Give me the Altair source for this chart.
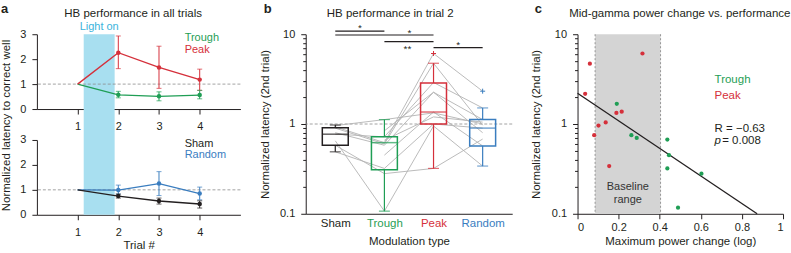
import altair as alt
import pandas as pd

FONT = "Liberation Sans"
INK = "#231f20"
GREEN = "#1f9e55"
RED = "#d5303b"
BLUE = "#3a7dbf"
CYAN = "#a8dff0"
CYAN_TEXT = "#3ab3dc"
GRAY = "#b3b3b3"
DASH = "#8c8c8c"
BAND_C = "#d4d4d4"

GROUPS = ["Sham", "Trough", "Peak", "Random"]
GROUP_COLORS = [INK, GREEN, RED, BLUE]

# ---------------- panel a data ----------------
trials = [1, 2, 3, 4]
peak_mean = [1.0, 2.26, 1.67, 1.18]
peak_lo = [None, 1.62, 0.83, 0.75]
peak_hi = [None, 2.93, 2.52, 1.60]
trough_mean = [1.0, 0.57, 0.51, 0.56]
trough_lo = [None, 0.45, 0.33, 0.41]
trough_hi = [None, 0.71, 0.69, 0.75]
sham_mean = [1.0, 0.75, 0.55, 0.43]
sham_lo = [None, 0.67, 0.43, 0.27]
sham_hi = [None, 0.83, 0.67, 0.56]
random_mean = [1.0, 0.99, 1.25, 0.85]
random_lo = [None, 0.83, 0.77, 0.60]
random_hi = [None, 1.19, 1.73, 1.11]
light_on = [1.15, 1.91]
a_legend_x = 3.63
a_top_legend = ["Trough", "Peak"]
a_top_legend_y = [2.84, 2.36]
a_bot_legend = ["Sham", "Random"]
a_bot_legend_y = [2.84, 2.40]

# ---------------- panel b data ----------------
b_index = [0, 1, 2, 3]
box_q1 = [0.58, 0.31, 1.0, 0.57]
box_med = [0.77, 0.62, 1.36, 0.90]
box_q3 = [0.91, 0.72, 2.86, 1.12]
whisk_lo = [0.49, 0.107, 0.32, 0.34]
whisk_hi = [0.975, 1.12, 4.75, 1.51]
outlier_group = ["Peak", "Random"]
outlier_index = [2, 3]
outlier_value = [6.1, 2.32]
animal_sham = [0.96, 0.93, 0.90, 0.80, 0.77, 0.65, 0.49, 0.58, None, None, None]
animal_trough = [1.12, 0.62, 0.60, 0.58, 0.72, 0.107, 0.32, 0.28, 0.84, 0.45, 0.66]
animal_peak = [1.33, 6.1, 4.75, 2.26, 2.9, 0.95, 1.0, 0.32, 2.26, 1.36, 1.2]
animal_random = [1.0, 2.32, 0.97, 1.12, 1.51, 0.34, 0.90, 0.68, 0.80, 0.57, 1.05]
sig_x1 = [0, 0, 1, 2]
sig_x2 = [1, 2, 2, 3]
sig_y = [10.85, 9.8, 8.26, 7.1]
star_x = [0.5, 1.51, 1.47, 2.5]
star_y = [10.85, 9.45, 6.29, 7.1]
star_text = ["*", "*", "**", "*"]

# ---------------- panel c data ----------------
peak_px = [0.316, 0.060, 0.037, 0.189, 0.215, 0.102, 0.137, 0.081, 0.154]
peak_py = [6.1, 4.7, 2.17, 1.33, 1.37, 0.96, 1.04, 0.75, 0.34]
trough_px = [0.191, 0.262, 0.288, 0.437, 0.445, 0.437, 0.603, 0.489]
trough_py = [1.68, 0.75, 0.70, 0.67, 0.45, 0.32, 0.28, 0.117]
baseline_range = [0.0855, 0.404]
fit_x = [0.0, 0.874]
fit_y = [2.2, 0.1]

COLOR = alt.Color("group:N", scale=alt.Scale(domain=GROUPS, range=GROUP_COLORS), legend=None)


def label(text, x, y, size=11.5, weight="normal", align="left", color=INK, baseline="alphabetic"):
    return alt.Chart(pd.DataFrame({"t": [text]})).mark_text(
        align=align, baseline=baseline, fontSize=size, fontWeight=weight, color=color
    ).encode(text="t:N", x=alt.value(x), y=alt.value(y))


def letter(text, x):
    return label(text, x, -30.8, 13, "bold", baseline="top")


# ================= panel a =================
WA, HA, GAPA = 204, 75, 31


def xa(field, title=None):
    kw = dict(values=trials, format="d", tickSize=5, labelPadding=7, labelFontSize=11)
    if title:
        kw.update(title=title, titleY=25)
    else:
        kw["title"] = None
    return alt.X(f"{field}:Q", scale=alt.Scale(domain=[0, 5], nice=False, zero=False),
                 axis=alt.Axis(**kw))


def ya(field, title=None):
    kw = dict(values=[0, 1, 2, 3], tickSize=5, labelPadding=6, labelFontSize=11)
    if title:
        kw.update(title=title, titleX=-30.5, titleY=-15, titleBaseline="middle", titleAlign="center")
    else:
        kw["title"] = None
    return alt.Y(f"{field}:Q", scale=alt.Scale(domain=[0, 3], nice=False), axis=alt.Axis(**kw))


def a_chart(names, means, los, his, legend_names, legend_y, top):
    frames = [pd.DataFrame({"trial": trials, "group": n, "mean": m, "lo": lo, "hi": hi})
              for n, m, lo, hi in zip(names, means, los, his)]
    df = pd.concat(frames, ignore_index=True)
    err = df.dropna(subset=["lo"])
    xt = None if top else "Trial #"
    yt = None if top else "Normalized latency to correct well"
    band = alt.Chart(pd.DataFrame({"s": [light_on[0]], "e": [light_on[1]]})).mark_rect(color=CYAN).encode(
        x=xa("s", xt), x2="e:Q", y=alt.value(0), y2=alt.value(HA + GAPA if top else HA))
    ref = alt.Chart(pd.DataFrame({"v": [1.0]})).mark_rule(
        color=DASH, strokeDash=[3, 2], strokeWidth=0.8).encode(y=ya("v", yt))
    lines = alt.Chart(df).mark_line(strokeWidth=1.4).encode(
        x=xa("trial", xt), y=ya("mean", yt), color=COLOR)
    bars = alt.Chart(err).mark_rule(strokeWidth=1).encode(
        x=xa("trial", xt), y=ya("lo", yt), y2="hi:Q", color=COLOR)
    cap_lo = alt.Chart(err).mark_tick(orient="horizontal", size=5, thickness=1).encode(
        x=xa("trial", xt), y=ya("lo", yt), color=COLOR)
    cap_hi = alt.Chart(err).mark_tick(orient="horizontal", size=5, thickness=1).encode(
        x=xa("trial", xt), y=ya("hi", yt), color=COLOR)
    pts = alt.Chart(err).mark_circle(size=20, opacity=1).encode(
        x=xa("trial", xt), y=ya("mean", yt), color=COLOR)
    leg = alt.Chart(pd.DataFrame({"group": legend_names, "x": a_legend_x, "y": legend_y})).mark_text(
        align="left", baseline="middle", fontSize=11).encode(
        x=xa("x", xt), y=ya("y", yt), text="group:N", color=COLOR)
    layers = [band, ref, lines, bars, cap_lo, cap_hi, pts, leg]
    if top:
        lon = alt.Chart(pd.DataFrame({"t": ["Light on"], "x": [(light_on[0] + light_on[1]) / 2]})).mark_text(
            align="center", baseline="alphabetic", fontSize=11, color=CYAN_TEXT).encode(
            x=xa("x", xt), y=alt.value(-4.5), text="t:N")
        layers += [lon, letter("a", -36),
                   label("HB performance in all trials", 96.5, -17, 11.5, align="center")]
    return alt.layer(*layers).properties(width=WA, height=HA)


a_top = a_chart(["Trough", "Peak"], [trough_mean, peak_mean], [trough_lo, peak_lo],
                [trough_hi, peak_hi], a_top_legend, a_top_legend_y, True)
a_bot = a_chart(["Random", "Sham"], [random_mean, sham_mean], [random_lo, sham_lo],
                [random_hi, sham_hi], a_bot_legend, a_bot_legend_y, False)
panel_a = alt.vconcat(a_top, a_bot, spacing=GAPA, bounds="flush")

# ================= panel b =================
WB, HB = 207, 180
LOG_TICKS = [0.1, 0.2, 0.3, 0.4, 0.5, 0.6, 0.7, 0.8, 0.9, 1, 2, 3, 4, 5, 6, 7, 8, 9, 10]
MAJOR = "datum.value == 0.1 || datum.value == 1 || datum.value == 10"
LOG_LABEL = "datum.value == 0.1 ? '0.1' : datum.value == 1 ? '1' : datum.value == 10 ? '10' : ''"


def ylog(field, title=None):
    kw = dict(values=LOG_TICKS, labelExpr=LOG_LABEL, labelOverlap=False,
              tickSize={"condition": {"test": MAJOR, "value": 5}, "value": 3},
              labelPadding=6, labelFontSize=11)
    if title:
        kw.update(title=title, titleX=-40.75, titleBaseline="middle")
    else:
        kw["title"] = None
    return alt.Y(f"{field}:Q", scale=alt.Scale(type="log", domain=[0.1, 10], nice=False),
                 axis=alt.Axis(**kw))


B_YT = "Normalized latency (2nd trial)"
label_expr_b = "[" + ",".join(f"'{g}'" for g in GROUPS) + "][datum.value]"
label_color_b = {"condition": [{"test": f"datum.value == {i}", "value": c}
                               for i, c in zip(b_index[1:], GROUP_COLORS[1:])],
                 "value": GROUP_COLORS[0]}


def xb(field):
    return alt.X(f"{field}:Q", scale=alt.Scale(domain=[-0.5, 3.5], nice=False, zero=False),
                 axis=alt.Axis(values=b_index, ticks=False, labelExpr=label_expr_b,
                               labelColor=label_color_b, labelFontSize=11.5, labelPadding=4,
                               title="Modulation type", titleY=22))


rows = []
for a_i, vals in enumerate(zip(animal_sham, animal_trough, animal_peak, animal_random)):
    for idx, v in zip(b_index, vals):
        if v is not None:
            rows.append({"animal": a_i, "idx": idx, "val": v})
b_lines_df = pd.DataFrame(rows)
box_df = pd.DataFrame({"group": GROUPS, "idx": b_index, "q1": box_q1, "med": box_med,
                       "q3": box_q3, "lo": whisk_lo, "hi": whisk_hi})
out_df = pd.DataFrame({"group": outlier_group, "idx": outlier_index, "val": outlier_value})
sig_df = pd.DataFrame({"x1": sig_x1, "x2": sig_x2, "y": sig_y})
star_df = pd.DataFrame({"sx": star_x, "sy": star_y, "s": star_text})

b_ref = alt.Chart(pd.DataFrame({"v": [1.0]})).mark_rule(
    color=DASH, strokeDash=[3, 2], strokeWidth=0.8).encode(y=ylog("v", B_YT))
b_gray = alt.Chart(b_lines_df).mark_line(color=GRAY, strokeWidth=0.9).encode(
    x=xb("idx"), y=ylog("val", B_YT), detail="animal:N", order="idx:Q")
b_wlo = alt.Chart(box_df).mark_rule(strokeWidth=1.2).encode(
    x=xb("idx"), y=ylog("lo", B_YT), y2="q1:Q", color=COLOR)
b_whi = alt.Chart(box_df).mark_rule(strokeWidth=1.2).encode(
    x=xb("idx"), y=ylog("q3", B_YT), y2="hi:Q", color=COLOR)
b_clo = alt.Chart(box_df).mark_tick(orient="horizontal", size=11, thickness=1.2).encode(
    x=xb("idx"), y=ylog("lo", B_YT), color=COLOR)
b_chi = alt.Chart(box_df).mark_tick(orient="horizontal", size=11, thickness=1.2).encode(
    x=xb("idx"), y=ylog("hi", B_YT), color=COLOR)
b_box = alt.Chart(box_df).mark_bar(filled=False, size=26, strokeWidth=1.5).encode(
    x=xb("idx"), y=ylog("q1", B_YT), y2="q3:Q", color=COLOR)
b_med = alt.Chart(box_df).mark_tick(orient="horizontal", size=26, thickness=1.5).encode(
    x=xb("idx"), y=ylog("med", B_YT), color=COLOR)
b_out = alt.Chart(out_df).mark_point(shape="M-1,0H1M0,-1V1", filled=False, size=25,
                                     strokeWidth=1, opacity=1).encode(
    x=xb("idx"), y=ylog("val", B_YT), color=COLOR)
b_sig = alt.Chart(sig_df).mark_rule(color=INK, strokeWidth=1.2).encode(
    x=xb("x1"), x2="x2:Q", y=ylog("y", B_YT))
b_star = alt.Chart(star_df).mark_text(fontSize=10, color=INK, baseline="alphabetic").encode(
    x=xb("sx"), y=ylog("sy", B_YT), text="s:N")

panel_b = alt.layer(
    b_ref, b_gray, b_wlo, b_whi, b_clo, b_chi, b_box, b_med, b_out, b_sig, b_star,
    letter("b", -42),
    label("HB performance in trial 2", 84.75, -17, 11.5, align="center"),
).properties(width=WB, height=HB)

# ================= panel c =================
WC, HC = 206, 180


def xc(field):
    return alt.X(f"{field}:Q", scale=alt.Scale(domain=[0, 1], nice=False, zero=False),
                 axis=alt.Axis(values=[0, 0.2, 0.4, 0.6, 0.8, 1], format="~g", tickSize=5,
                               labelPadding=3, labelFontSize=11,
                               title="Maximum power change (log)", titleY=22))


C_YT = "Normalized latency (2nd trial)"
pts_df = pd.concat([
    pd.DataFrame({"group": "Peak", "x": peak_px, "y": peak_py}),
    pd.DataFrame({"group": "Trough", "x": trough_px, "y": trough_py}),
], ignore_index=True)

c_band = alt.Chart(pd.DataFrame({"s": [baseline_range[0]], "e": [baseline_range[1]],
                                 "y1": [0.1], "y2": [10.0]})).mark_rect(color=BAND_C).encode(
    x=xc("s"), x2="e:Q", y=ylog("y1", C_YT), y2="y2:Q")
c_edges = alt.Chart(pd.DataFrame({"e": baseline_range})).mark_rule(
    color=DASH, strokeDash=[2, 2], strokeWidth=0.9).encode(x=xc("e"))
c_btext = alt.Chart(pd.DataFrame({"t": ["Baseline", "range"],
                                  "x": [(baseline_range[0] + baseline_range[1]) / 2] * 2,
                                  "y": [0.199, 0.141]})).mark_text(
    fontSize=11, color="#333333", baseline="middle").encode(
    x=xc("x"), y=ylog("y", C_YT), text="t:N")
c_fit = alt.Chart(pd.DataFrame({"x": fit_x, "y": fit_y})).mark_line(color=INK, strokeWidth=1.3).encode(
    x=xc("x"), y=ylog("y", C_YT))
c_pts = alt.Chart(pts_df).mark_circle(size=18, opacity=1).encode(
    x=xc("x"), y=ylog("y", C_YT), color=COLOR)
c_leg = alt.Chart(pd.DataFrame({"group": ["Trough", "Peak"], "x": [0.667, 0.667],
                                "y": [3.12, 2.06]})).mark_text(
    align="left", baseline="middle", fontSize=11.5).encode(
    x=xc("x"), y=ylog("y", C_YT), text="group:N", color=COLOR)
c_stat = alt.Chart(pd.DataFrame({"t": ["R = \u22120.63", "= 0.008"], "x": [0.667, 0.704],
                                 "y": [0.88, 0.645]})).mark_text(
    align="left", baseline="middle", fontSize=11.5, color=INK).encode(
    x=xc("x"), y=ylog("y", C_YT), text="t:N")
c_p = alt.Chart(pd.DataFrame({"t": ["p"], "x": [0.667], "y": [0.645]})).mark_text(
    align="left", baseline="middle", fontSize=11.5, color=INK, fontStyle="italic").encode(
    x=xc("x"), y=ylog("y", C_YT), text="t:N")

panel_c = alt.layer(
    c_band, c_edges, c_btext, c_fit, c_pts, c_leg, c_stat, c_p,
    letter("c", -43),
    label("Mid-gamma power change vs. performance", 102.5, -17, 11.5, align="center"),
).properties(width=WC, height=HC)

chart = alt.hconcat(panel_a, panel_b, panel_c, spacing=17.5).properties(
    padding={"left": 0, "top": 3, "right": 0, "bottom": 0}
).configure(font=FONT).configure_view(stroke=None).configure_axis(
    labelFont=FONT, titleFont=FONT, labelColor=INK, titleColor=INK, domainColor=INK,
    tickColor=INK, titleFontWeight="normal", titleFontSize=11.5, labelFontSize=11,
    grid=False, domainWidth=1, tickWidth=1
)

chart.save("out.html", embed_options={"renderer": "svg", "actions": False})
